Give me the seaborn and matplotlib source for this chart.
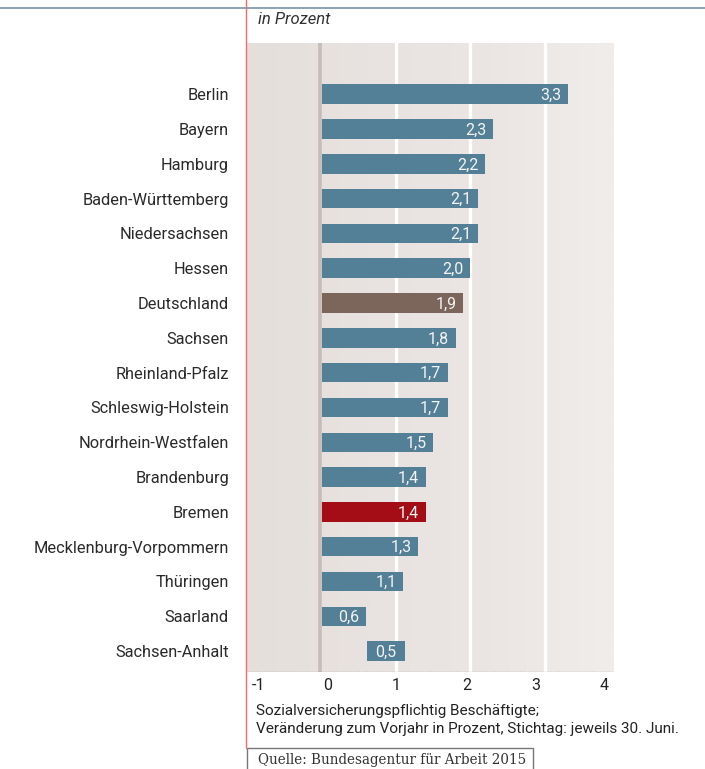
import numpy as np
import pandas as pd
import matplotlib
matplotlib.use("Agg")
import matplotlib.pyplot as plt
import seaborn as sns
from matplotlib.patches import Rectangle
from matplotlib.lines import Line2D

states = ["Berlin", "Bayern", "Hamburg", "Baden-Württemberg", "Niedersachsen", "Hessen",
          "Deutschland", "Sachsen", "Rheinland-Pfalz", "Schleswig-Holstein",
          "Nordrhein-Westfalen", "Brandenburg", "Bremen", "Mecklenburg-Vorpommern",
          "Thüringen", "Saarland", "Sachsen-Anhalt"]
values = [3.3, 2.3, 2.2, 2.1, 2.1, 2.0, 1.9, 1.8, 1.7, 1.7, 1.5, 1.4, 1.4, 1.3, 1.1, 0.6, 0.5]
bar_start = [0, 0, 0, 0, 0, 0, 0, 0, 0, 0, 0, 0, 0, 0, 0, 0, 0.6]
labels = ["3,3", "2,3", "2,2", "2,1", "2,1", "2,0", "1,9", "1,8", "1,7", "1,7", "1,5",
          "1,4", "1,4", "1,3", "1,1", "0,6", "0,5"]
tick_values = ["-1", "0", "1", "2", "3", "4"]

BLUE = "#537f97"
colors = {s: BLUE for s in states}
colors["Deutschland"] = "#7c665b"
colors["Bremen"] = "#a40c16"

df = pd.DataFrame({"state": states, "value": values})

sns.set_theme(style="white")
plt.rcParams["font.family"] = ["Roboto", "DejaVu Sans"]

fig = plt.figure(figsize=(7.05, 7.69), dpi=100)
W, H = 705, 769
ax = fig.add_axes([247 / W, 1 - 672 / H, 367 / W, 629 / H])

xmin, xmax = -0.99, 3.92
ymin, ymax = 16.6, -1.47

# background gradient
grad = np.linspace(0, 1, 512).reshape(1, -1)
cmap = matplotlib.colors.LinearSegmentedColormap.from_list(
    "bg", ["#e5dfdb", "#e8e3e0", "#ebe6e3", "#f0edea"])
ax.imshow(grad, extent=[xmin, xmax, ymax, ymin], aspect="auto", cmap=cmap,
          zorder=0, origin="lower", interpolation="bilinear")

for g in [1, 2, 3]:
    ax.axvline(g, color="white", lw=2.4, zorder=1)
ax.axvline(-0.01, color="#c7bcb7", lw=2.6, zorder=1)

sns.barplot(data=df, y="state", x="value", hue="state", palette=colors, legend=False,
            orient="h", width=0.56, ax=ax, zorder=2, saturation=1, edgecolor="none")

bars = [b for c in ax.containers for b in c]
bars.sort(key=lambda b: b.get_y())
for patch, st, v, lab in zip(bars, bar_start, values, labels):
    patch.set_x(st + 0.02)
    patch.set_width(v - 0.02 if st == 0 else v)
    yc = patch.get_y() + patch.get_height() / 2
    ax.text(st + v - 0.09, yc + 0.03, lab, color="#f4f4f4", ha="right", va="center",
            fontsize=11.5, zorder=3)

ax.set_xlim(xmin, xmax)
ax.set_ylim(ymin, ymax)
ax.set_xlabel("")
ax.set_ylabel("")
for sp in ax.spines.values():
    sp.set_visible(False)
ax.tick_params(axis="y", length=0, pad=13, labelsize=11.8, labelcolor="#2a2a2a")
ax.set_xticks([-0.84, 0.09, 1.01, 1.95, 2.87, 3.79])
ax.set_xticklabels(tick_values)
ax.tick_params(axis="x", length=0, pad=4, labelsize=11.5, labelcolor="#222222")
ax.axhline(ymin, color="#8a8a8a", lw=1.0, ls=(0, (1, 1)), zorder=3)

# decorations
fig.add_artist(Line2D([0, 1], [1 - 8 / H, 1 - 8 / H], color="#7f9db2", lw=1.3))
fig.add_artist(Line2D([246 / W, 246 / W], [1 - 748 / H, 1], color="#f26a6a", lw=1.0))
fig.text(258 / W, 1 - 20 / H, "in Prozent", style="italic", fontsize=12,
         color="#333333", va="center")
fig.text(256 / W, 1 - 711 / H, "Sozialversicherungspflichtig Beschäftigte;",
         fontsize=11.0, color="#222222", va="center")
fig.text(256 / W, 1 - 729 / H,
         "Veränderung zum Vorjahr in Prozent, Stichtag: jeweils 30. Juni.",
         fontsize=11.0, color="#222222", va="center")
fig.add_artist(Rectangle((247 / W, 1 - 770 / H), (533 - 247) / W, (770 - 748) / H,
                         fill=False, edgecolor="#777777", lw=1.0))
fig.text(258 / W, 1 - 760 / H, "Quelle: Bundesagentur für Arbeit 2015",
         family=["DejaVu Serif"], fontsize=9.75, color="#333333",
         va="center")

fig.savefig("out.png", dpi=100)
